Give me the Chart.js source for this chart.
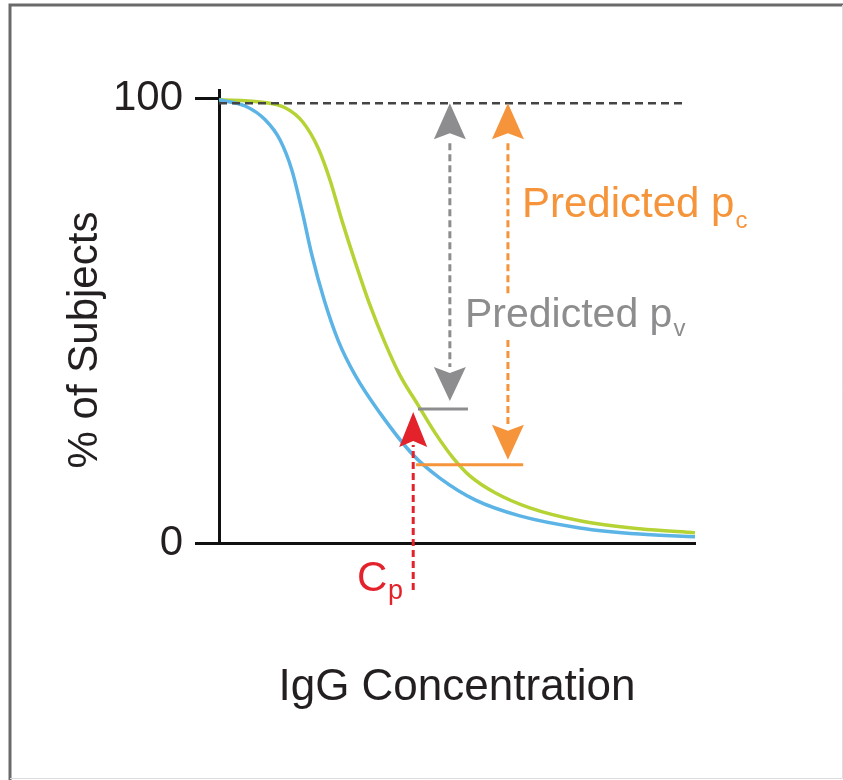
<!DOCTYPE html>
<html>
<head>
<meta charset="utf-8">
<script src="https://cdn.jsdelivr.net/npm/chart.js@4/dist/chart.umd.min.js"></script>
<style>
  body { margin: 0; background: #fff; }
  #wrap { width: 843px; height: 780px; position: relative; }
</style>
</head>
<body>
<div id="wrap"><canvas id="c"></canvas></div>
<script>
// curve readings (x = IgG concentration, arbitrary 0-100; y = % of subjects)
var blueX = [0, 5.5, 9.7, 12.8, 15.3, 17.4, 19.5, 22.1, 25.0, 28.6, 33.8, 40.8, 46.4, 53.8, 63.2, 75.8, 88.4, 100];
var blueY = [99.8, 98.4, 95.3, 90.8, 84.0, 75.0, 64.9, 54.7, 45.7, 37.8, 29.3, 19.8, 14.6, 9.7, 6.1, 3.4, 2.0, 1.4];
var greenX = [0, 8.6, 13.9, 17.6, 20.8, 23.3, 25.8, 28.6, 31.7, 34.9, 38.0, 41.8, 45.4, 49.0, 52.7, 58.0, 65.3, 75.8, 88.4, 100];
var greenY = [99.8, 99.3, 98.0, 94.8, 89.0, 81.8, 72.7, 63.3, 53.6, 45.0, 37.8, 31.1, 24.8, 19.4, 15.1, 11.3, 7.9, 5.0, 3.2, 2.3];
var yTicks = [0, 100];
var refLevel = 99;      // dashed 100 % reference line
var refEnd = 98.3;

// annotation values
var cpConc = 40.8;      // C_p
var pvLevel = 30.2;     // predicted p_v (grey bar)
var pcLevel = 17.6;     // predicted p_c (orange bar)
var pvArrowX = 48.5;
var pcArrowX = 60.7;
var pvBar = [41.8, 52.3];
var pcBar = [41.4, 63.9];

var BLUE = '#5bb4e5', GREEN = '#b5d335', ORANGE = '#f5943a', GREY = '#8d8d8f', RED = '#e3222b', INK = '#231f20';
var FONT = '"Liberation Sans", Arial, Helvetica, sans-serif';

function pts(xs, ys) {
  return xs.map(function(x, i) { return {x: x, y: ys[i]}; });
}

function head(ctx, x, tip, dir, w, h, color) {
  // dir = 1 pointing up, -1 pointing down
  var base = tip + dir * h;
  ctx.beginPath();
  ctx.moveTo(x, tip);
  ctx.lineTo(x + w, base);
  ctx.lineTo(x, base - dir * 6);
  ctx.lineTo(x - w, base);
  ctx.closePath();
  ctx.fillStyle = color;
  ctx.fill();
}

function vdash(ctx, x, y1, y2, color) {
  ctx.save();
  ctx.strokeStyle = color;
  ctx.lineWidth = 3;
  ctx.setLineDash([7, 4]);
  ctx.beginPath();
  ctx.moveTo(x, y1);
  ctx.lineTo(x, y2);
  ctx.stroke();
  ctx.restore();
}

function hbar(ctx, x1, x2, y, color) {
  ctx.save();
  ctx.strokeStyle = color;
  ctx.lineWidth = 3;
  ctx.beginPath();
  ctx.moveTo(x1, y);
  ctx.lineTo(x2, y);
  ctx.stroke();
  ctx.restore();
}

var framePlugin = {
  id: 'frame',
  beforeDraw: function(chart) {
    var ctx = chart.ctx;
    ctx.save();
    ctx.fillStyle = '#fff';
    ctx.fillRect(0, 0, chart.width, chart.height);
    ctx.strokeStyle = '#6a6a6a';
    ctx.lineWidth = 3;
    ctx.beginPath();
    ctx.moveTo(10, 780);
    ctx.lineTo(10, 5);
    ctx.lineTo(843, 5);
    ctx.stroke();
    ctx.strokeStyle = '#dcdcdc';
    ctx.lineWidth = 1;
    ctx.beginPath();
    ctx.moveTo(842.5, 5);
    ctx.lineTo(842.5, 778.5);
    ctx.lineTo(10, 778.5);
    ctx.stroke();
    ctx.restore();
  }
};

var notesPlugin = {
  id: 'notes',
  afterDraw: function(chart) {
    var ctx = chart.ctx, sx = chart.scales.x, sy = chart.scales.y;
    var X = function(v) { return sx.getPixelForValue(v); };
    var Y = function(v) { return sy.getPixelForValue(v); };
    var top = Y(refLevel);

    // bars
    var pvY = Y(pvLevel), pcY = Y(pcLevel);
    hbar(ctx, X(pvBar[0]), X(pvBar[1]), pvY, GREY);
    hbar(ctx, X(pcBar[0]), X(pcBar[1]), pcY, ORANGE);

    // grey arrow (predicted p_v)
    var gx = X(pvArrowX);
    head(ctx, gx, top, 1, 16, 36, GREY);
    vdash(ctx, gx, top + 40, pvY - 42, GREY);
    head(ctx, gx, pvY - 8, -1, 16, 34, GREY);

    // orange arrow (predicted p_c), broken by the grey label
    var ox = X(pcArrowX);
    var labY = 327;
    head(ctx, ox, top, 1, 16, 36, ORANGE);
    vdash(ctx, ox, top + 40, labY - 32, ORANGE);
    vdash(ctx, ox, labY + 13, pcY - 40, ORANGE);
    head(ctx, ox, pcY - 5, -1, 16, 35, ORANGE);

    // red C_p arrow
    var rx = X(cpConc);
    vdash(ctx, rx, Y(0) + 47, pvY + 36, RED);
    head(ctx, rx, pvY + 3, 1, 14, 35, RED);

    // texts
    ctx.save();
    ctx.textBaseline = 'alphabetic';
    ctx.textAlign = 'left';
    var t = 'Predicted p';
    ctx.font = '42px ' + FONT;
    ctx.fillStyle = ORANGE;
    ctx.fillText(t, 522, 217);
    var w = ctx.measureText(t).width;
    ctx.font = '24px ' + FONT;
    ctx.fillText('c', 522 + w + 1, 228);

    ctx.font = '41px ' + FONT;
    ctx.fillStyle = GREY;
    ctx.fillText(t, 465, labY);
    w = ctx.measureText(t).width;
    ctx.font = '24px ' + FONT;
    ctx.fillText('v', 465 + w + 1, labY + 9);

    ctx.fillStyle = RED;
    ctx.font = '42px ' + FONT;
    ctx.fillText('C', 357, 591);
    ctx.font = '27px ' + FONT;
    ctx.fillText('p', 388, 599);

    // y axis title
    ctx.fillStyle = INK;
    ctx.font = '42px ' + FONT;
    ctx.textAlign = 'center';
    ctx.textBaseline = 'middle';
    ctx.translate(85, 340);
    ctx.rotate(-Math.PI / 2);
    ctx.fillText('% of Subjects', 0, 0);
    ctx.restore();
  }
};

new Chart(document.getElementById('c'), {
  type: 'line',
  data: {
    datasets: [
      {
        label: 'ref',
        data: [{x: 0, y: refLevel}, {x: refEnd, y: refLevel}],
        borderColor: '#444',
        borderWidth: 2.5,
        borderDash: [8, 5],
        pointRadius: 0
      },
      {
        label: 'blue',
        data: pts(blueX, blueY),
        borderColor: BLUE,
        borderWidth: 3.5,
        pointRadius: 0,
        cubicInterpolationMode: 'monotone'
      },
      {
        label: 'green',
        data: pts(greenX, greenY),
        borderColor: GREEN,
        borderWidth: 3.5,
        pointRadius: 0,
        cubicInterpolationMode: 'monotone'
      }
    ]
  },
  options: {
    responsive: true,
    maintainAspectRatio: false,
    animation: false,
    layout: { padding: { left: 0, top: 90, right: 148, bottom: 0 } },
    plugins: { legend: { display: false }, tooltip: { enabled: false } },
    scales: {
      x: {
        type: 'linear',
        min: 0,
        max: 100,
        ticks: { display: false },
        grid: { display: true, drawOnChartArea: false, drawTicks: false },
        border: { display: true, color: '#111', width: 3 },
        title: {
          display: true,
          text: 'IgG Concentration',
          color: INK,
          font: { family: FONT, size: 44 },
          padding: { top: 0, bottom: 66 }
        },
        afterFit: function(s) { s.height = 237; }
      },
      y: {
        min: 0,
        max: 102,
        afterBuildTicks: function(s) { s.ticks = yTicks.map(function(v) { return {value: v}; }); },
        ticks: { color: INK, font: { family: FONT, size: 42 }, padding: 12 },
        grid: { display: true, drawOnChartArea: false, drawTicks: true, tickLength: 24, lineWidth: 3, color: '#111' },
        border: { display: true, color: '#111', width: 3 },
        afterFit: function(s) { s.width = 219; }
      }
    }
  },
  plugins: [framePlugin, notesPlugin]
});
</script>
</body>
</html>
